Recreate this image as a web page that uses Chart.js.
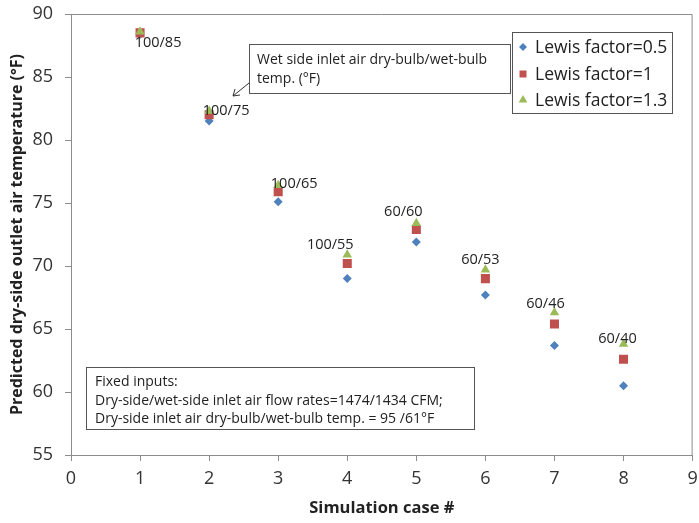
<!DOCTYPE html>
<html>
<head>
<meta charset="utf-8">
<script src="https://cdn.jsdelivr.net/npm/chart.js@4/dist/chart.umd.min.js"></script>
<style>
  html, body { margin: 0; padding: 0; background: #fff; }
  #wrap { width: 699px; height: 523px; }
</style>
</head>
<body>
<div id="wrap"><canvas id="tempChart" width="699" height="523"></canvas></div>
<script>
// simulation cases and predicted outlet temps (F)
let cases = [1, 2, 3, 4, 5, 6, 7, 8];
let lewis05 = [88.4, 81.5, 75.1, 69.0, 71.9, 67.7, 63.7, 60.5];
let lewis1 = [88.5, 82.0, 75.9, 70.2, 72.9, 69.0, 65.4, 62.6];
let lewis13 = [88.6, 82.3, 76.4, 70.9, 73.4, 69.7, 66.3, 63.8];
let caseLabels = ['100/85', '100/75', '100/65', '100/55', '60/60', '60/53', '60/46', '60/40'];
let yTicks = [55, 60, 65, 70, 75, 80, 85, 90];

// label offsets from the Lewis=1 marker, px
let labelOffsets = [[18, 10], [17, -4], [16, -8], [-17, -19], [-13, -18], [-5, -19], [-9, -20], [-6, -20]];

let fontFam = '"Open Sans", "Liberation Sans", sans-serif';

function toPoints(vals) {
    return cases.map(function (c, i) { return { x: c, y: vals[i] }; });
}

function drawMarker(ctx, style, color, x, y, r) {
    ctx.save();
    ctx.fillStyle = color;
    ctx.beginPath();
    if (style == 'rectRot') {
        ctx.moveTo(x, y - r); ctx.lineTo(x + r, y); ctx.lineTo(x, y + r); ctx.lineTo(x - r, y);
    } else if (style == 'rect') {
        ctx.rect(x - r * 0.7, y - r * 0.7, r * 1.4, r * 1.4);
    } else {
        ctx.moveTo(x, y - r); ctx.lineTo(x + r * 0.87, y + r * 0.5); ctx.lineTo(x - r * 0.87, y + r * 0.5);
    }
    ctx.closePath();
    ctx.fill();
    ctx.restore();
}

const annotations = {
    id: 'annotations',
    afterDraw(chart) {
        const ctx = chart.ctx;
        const area = chart.chartArea;
        const xs = chart.scales.x, ys = chart.scales.y;
        ctx.save();

        // frame top + right
        ctx.strokeStyle = '#8c8c8c';
        ctx.lineWidth = 1;
        ctx.beginPath();
        ctx.moveTo(area.left, area.top + 0.5);
        ctx.lineTo(area.right - 0.5, area.top + 0.5);
        ctx.lineTo(area.right - 0.5, area.bottom);
        ctx.stroke();

        // case labels
        ctx.fillStyle = '#222';
        ctx.font = '14.5px ' + fontFam;
        ctx.textAlign = 'center';
        ctx.textBaseline = 'middle';
        caseLabels.forEach(function (lbl, i) {
            let px = xs.getPixelForValue(cases[i]) + labelOffsets[i][0];
            let py = ys.getPixelForValue(lewis1[i]) + labelOffsets[i][1];
            ctx.fillText(lbl, px, py);
        });

        // callout box
        ctx.fillStyle = '#fff';
        ctx.fillRect(249.5, 44.5, 261, 49);
        ctx.strokeStyle = '#555';
        ctx.strokeRect(249.5, 44.5, 261, 49);
        ctx.fillStyle = '#222';
        ctx.textAlign = 'left';
        ctx.font = '14px ' + fontFam;
        ctx.fillText('Wet side inlet air dry-bulb/wet-bulb', 257, 60);
        ctx.fillText('temp. (\u00B0F)', 257, 79);
        // arrow
        ctx.strokeStyle = '#333';
        ctx.beginPath();
        ctx.moveTo(249, 83);
        ctx.lineTo(233, 96);
        ctx.moveTo(233, 96);
        ctx.lineTo(235, 89);
        ctx.moveTo(233, 96);
        ctx.lineTo(240, 95);
        ctx.stroke();

        // fixed inputs box
        ctx.fillStyle = '#fff';
        ctx.fillRect(86.5, 367.5, 388, 62);
        ctx.strokeStyle = '#555';
        ctx.strokeRect(86.5, 367.5, 388, 62);
        ctx.fillStyle = '#222';
        ctx.font = '14px ' + fontFam;
        ctx.fillText('Fixed inputs:', 95, 382);
        ctx.fillText('Dry-side/wet-side inlet air flow rates=1474/1434 CFM;', 95, 401);
        ctx.fillText('Dry-side inlet air dry-bulb/wet-bulb temp. = 95 /61\u00B0F', 95, 419);

        // legend
        ctx.fillStyle = '#fff';
        ctx.fillRect(512.5, 32.5, 160, 81);
        ctx.strokeStyle = '#555';
        ctx.strokeRect(512.5, 32.5, 160, 81);
        ctx.font = '17.5px ' + fontFam;
        ctx.textAlign = 'left';
        let rows = [47, 74, 100];
        [0, 1, 2].forEach(function (k) {
            let ds = chart.data.datasets[k];
            drawMarker(ctx, ds.pointStyle, ds.backgroundColor, 523, rows[k], k == 0 ? 4 : 5);
            ctx.fillStyle = '#222';
            ctx.fillText(ds.label, 535, rows[k] + 1);
        });

        ctx.restore();
    }
};

new Chart(document.getElementById('tempChart'), {
    type: 'scatter',
    data: {
        datasets: [
            {
                label: 'Lewis factor=0.5',
                data: toPoints(lewis05),
                pointStyle: 'rectRot',
                backgroundColor: '#4F81BD',
                borderColor: '#4F81BD',
                pointRadius: 4.5,
                borderWidth: 0,
                order: 3
            },
            {
                label: 'Lewis factor=1',
                data: toPoints(lewis1),
                pointStyle: 'rect',
                backgroundColor: '#C0504D',
                borderColor: '#C0504D',
                pointRadius: 6.4,
                borderWidth: 0,
                order: 2
            },
            {
                label: 'Lewis factor=1.3',
                data: toPoints(lewis13),
                pointStyle: 'triangle',
                backgroundColor: '#9BBB59',
                borderColor: '#9BBB59',
                pointRadius: 5.5,
                borderWidth: 0,
                order: 1
            }
        ]
    },
    options: {
        responsive: false,
        animation: false,
        layout: { padding: { top: 14, right: 2, left: 0, bottom: 0 } },
        plugins: {
            legend: { display: false },
            tooltip: { enabled: false }
        },
        scales: {
            x: {
                type: 'linear',
                min: 0,
                max: 9,
                afterFit: function (scale) {
                    scale.height = 68;
                    scale.paddingLeft = 0;
                    scale.paddingRight = 0;
                },
                ticks: {
                    stepSize: 1,
                    padding: 7,
                    color: '#333',
                    font: { family: fontFam, size: 18 }
                },
                grid: {
                    drawOnChartArea: false,
                    tickLength: 6,
                    color: '#8c8c8c'
                },
                border: { color: '#8c8c8c' },
                title: {
                    display: true,
                    text: 'Simulation case #',
                    color: '#222',
                    padding: { top: 0, bottom: 5 },
                    font: { family: fontFam, size: 16.5, weight: 'bold' }
                }
            },
            y: {
                min: 55,
                max: 90,
                afterFit: function (scale) {
                    scale.width = 71;
                    scale.paddingTop = 0;
                    scale.paddingBottom = 0;
                },
                afterBuildTicks: function (scale) {
                    scale.ticks = yTicks.map(function (v) { return { value: v }; });
                },
                ticks: {
                    padding: 12,
                    color: '#333',
                    font: { family: fontFam, size: 18 }
                },
                grid: {
                    drawOnChartArea: false,
                    tickLength: 6,
                    color: '#8c8c8c'
                },
                border: { color: '#8c8c8c' },
                title: {
                    display: true,
                    text: 'Predicted dry-side outlet air temperature (\u00B0F)',
                    color: '#222',
                    padding: { top: 8, bottom: 0 },
                    font: { family: fontFam, size: 16, weight: 'bold' }
                }
            }
        }
    },
    plugins: [annotations]
});
</script>
</body>
</html>
